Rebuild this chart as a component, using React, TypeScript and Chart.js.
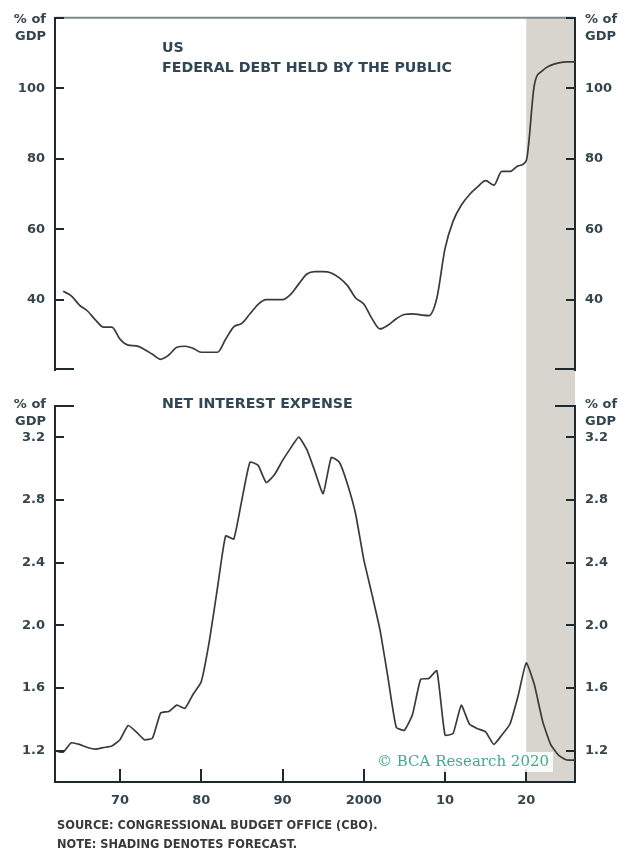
import React, { useEffect, useRef } from 'react';
import { Chart, registerables } from 'chart.js';

Chart.register(...registerables);

// ---------- data ----------
const debtYears = [
  1963, 1964, 1965, 1966, 1967, 1968, 1969, 1970, 1971, 1972, 1973, 1974, 1975, 1976, 1977, 1978,
  1979, 1980, 1981, 1982, 1983, 1984, 1985, 1986, 1987, 1988, 1989, 1990, 1991, 1992, 1993, 1994,
  1995, 1996, 1997, 1998, 1999, 2000, 2001, 2002, 2003, 2004, 2005, 2006, 2007, 2008, 2009, 2010,
  2011, 2012, 2013, 2014, 2015, 2016, 2017, 2018, 2019, 2020, 2021, 2022, 2023, 2024, 2025, 2026,
];
const debtValues = [
  42.4, 41.1, 38.5, 36.8, 34.2, 32.2, 32.2, 28.8, 27.1, 26.9, 25.9, 24.5, 23.1, 24.3, 26.5, 26.8,
  26.2, 25.1, 25.1, 25.1, 28.8, 32.3, 33.3, 36.0, 38.7, 40.0, 40.0, 40.0, 41.5, 44.5, 47.3, 48.0,
  48.0, 47.6, 46.2, 44.0, 40.5, 38.8, 34.7, 31.7, 32.8, 34.6, 35.8, 36.0, 35.7, 35.5, 40.5, 54.5,
  62.3, 66.8, 69.8, 72.0, 73.8, 72.5, 76.4, 76.4, 78.0, 79.5, 101.0, 105.0, 106.5, 107.2, 107.5, 107.5,
];

const interestYears = [
  1962, 1963, 1964, 1965, 1966, 1967, 1968, 1969, 1970, 1971, 1972, 1973, 1974, 1975, 1976, 1977,
  1978, 1979, 1980, 1981, 1982, 1983, 1984, 1985, 1986, 1987, 1988, 1989, 1990, 1991, 1992, 1993,
  1994, 1995, 1996, 1997, 1998, 1999, 2000, 2001, 2002, 2003, 2004, 2005, 2006, 2007, 2008, 2009,
  2010, 2011, 2012, 2013, 2014, 2015, 2016, 2017, 2018, 2019, 2020, 2021, 2022, 2023, 2024, 2025, 2026,
];
const interestValues = [
  1.2, 1.19, 1.25, 1.24, 1.22, 1.21, 1.22, 1.23, 1.27, 1.36, 1.32, 1.27, 1.28, 1.44, 1.45, 1.49,
  1.47, 1.56, 1.64, 1.9, 2.24, 2.57, 2.55, 2.8, 3.04, 3.02, 2.91, 2.96, 3.05, 3.13, 3.2, 3.12,
  2.98, 2.84, 3.07, 3.04, 2.9, 2.71, 2.42, 2.2, 1.97, 1.66, 1.35, 1.33, 1.43, 1.655, 1.66, 1.71,
  1.3, 1.31, 1.49, 1.37, 1.34, 1.32, 1.24, 1.3, 1.37, 1.55, 1.76, 1.62, 1.39, 1.24, 1.17, 1.14, 1.14,
];

const xTickYears = [1970, 1980, 1990, 2000, 2010, 2020];
const xTickLabels = ['70', '80', '90', '2000', '10', '20'];
const debtTickValues = [40, 60, 80, 100];
const interestTickValues = [1.2, 1.6, 2.0, 2.4, 2.8, 3.2];
const yearMin = 1962;
const yearMax = 2026;
const debtMin = 20;
const debtMax = 120;
const interestMin = 1.0;
const interestMax = 3.4;
const forecastStartYear = 2020;

const topTitleLines = ['US', 'FEDERAL DEBT HELD BY THE PUBLIC'];
const bottomTitle = 'NET INTEREST EXPENSE';
const unitLines = ['% of', 'GDP'];
const notes = ['SOURCE: CONGRESSIONAL BUDGET OFFICE (CBO).', 'NOTE: SHADING DENOTES FORECAST.'];
const watermark = '\u00A9 BCA Research 2020';

// ---------- style ----------
const TEXT = '#35454d';
const TITLE = '#2f4757';
const AXIS = '#1e2a2f';
const LINE = '#3a3a3a';
const SHADE = '#d8d5ce';
const TOPLINE = '#7f8888';
const FAMILY = '"DejaVu Sans", "Liberation Sans", sans-serif';

const W = 631;
const TOP_H = 388;
const BOT_H = 465;

function tickList(values: number[]) {
  return values.map((value) => ({ value }));
}

function yScale(pos: 'left' | 'right', min: number, max: number, ticks: number[], labels: number[], digits: number) {
  return {
    type: 'linear',
    position: pos,
    min,
    max,
    afterFit: (s: any) => {
      s.width = pos === 'left' ? 55 : 56;
    },
    afterBuildTicks: (s: any) => {
      s.ticks = tickList(ticks);
    },
    grid: { display: false, drawTicks: false },
    border: { display: true, color: AXIS, width: 2 },
    ticks: {
      padding: 10,
      color: TEXT,
      font: { family: FAMILY, size: 13, weight: 'bold' },
      callback: (v: number) =>
        labels.some((t) => Math.abs(t - v) < 1e-6) ? Number(v).toFixed(digits) : '',
    },
  };
}

function drawLine(ctx: CanvasRenderingContext2D, x1: number, y1: number, x2: number, y2: number) {
  ctx.beginPath();
  ctx.moveTo(x1, y1);
  ctx.lineTo(x2, y2);
  ctx.stroke();
}

// font size (px) making `text` as wide as `target` in the given family/weight
function fittedSize(ctx: CanvasRenderingContext2D, text: string, weight: string, family: string, target: number) {
  ctx.font = `${weight} 20px ${family}`;
  const w = ctx.measureText(text).width;
  return (20 * target) / w;
}

function decorations(kind: 'top' | 'bottom') {
  return {
    id: 'decor_' + kind,
    beforeDraw(chart: any) {
      const { ctx, chartArea, scales } = chart;
      const x0 = scales.x.getPixelForValue(forecastStartYear);
      const top = kind === 'top' ? chartArea.top : 0;
      const bottom = kind === 'top' ? chart.height : chartArea.bottom;
      ctx.save();
      ctx.fillStyle = SHADE;
      ctx.fillRect(x0, top, chartArea.right - x0, bottom - top);
      ctx.restore();
    },
    afterDatasetsDraw(chart: any) {
      const { ctx, chartArea, scales } = chart;
      const { left, right, top, bottom } = chartArea;
      const ys = scales.yL;
      ctx.save();
      ctx.lineCap = 'butt';
      if (kind === 'top') {
        ctx.strokeStyle = TOPLINE;
        ctx.lineWidth = 2;
        drawLine(ctx, left, top, right, top);
      }
      ctx.strokeStyle = AXIS;
      ctx.lineWidth = 2;
      const tickVals = kind === 'top' ? [...debtTickValues, debtMax] : interestTickValues;
      for (const v of tickVals) {
        const y = Math.round(ys.getPixelForValue(v));
        drawLine(ctx, left, y, left + 9, y);
        drawLine(ctx, right - 9, y, right, y);
      }
      const stubVal = kind === 'top' ? debtMin : interestMax;
      const sy = Math.round(ys.getPixelForValue(stubVal)) + (kind === 'top' ? -1 : 0);
      drawLine(ctx, left, sy, left + 19, sy);
      drawLine(ctx, right - 20, sy, right, sy);
      if (kind === 'bottom') {
        for (const yr of xTickYears) {
          const x = Math.round(scales.x.getPixelForValue(yr));
          drawLine(ctx, x, bottom, x, bottom - 13);
        }
      }

      // unit labels
      ctx.fillStyle = TEXT;
      ctx.font = `bold 13px ${FAMILY}`;
      ctx.textBaseline = 'middle';
      const uy = kind === 'top' ? top + 2 : top - 1;
      unitLines.forEach((t, i) => {
        ctx.textAlign = 'right';
        ctx.fillText(t, left - 9, uy + i * 17);
        ctx.textAlign = 'left';
        ctx.fillText(t, right + 10, uy + i * 17);
      });

      // titles
      const titleSize = fittedSize(ctx, topTitleLines[1], 'bold', FAMILY, 290);
      ctx.font = `bold ${titleSize.toFixed(2)}px ${FAMILY}`;
      ctx.fillStyle = TITLE;
      ctx.textAlign = 'left';
      if (kind === 'top') {
        topTitleLines.forEach((t, i) => ctx.fillText(t, 162, 48 + i * 20));
      } else {
        ctx.fillText(bottomTitle, 162, top - 1);

        // watermark
        ctx.font = `15px "DejaVu Serif", serif`;
        const wx = 377;
        const wy = 762 - 388;
        const ww = ctx.measureText(watermark).width;
        ctx.fillStyle = 'rgba(255,255,255,0.85)';
        ctx.fillRect(wx - 4, wy - 10, ww + 8, 20);
        ctx.fillStyle = '#46a88f';
        ctx.fillText(watermark, wx, wy);

        // notes
        const noteSize = fittedSize(ctx, notes[0], 'bold', '"DejaVu Sans Condensed", "DejaVu Sans", sans-serif', 321);
        ctx.fillStyle = '#3a3a3a';
        ctx.font = `bold ${noteSize.toFixed(2)}px "DejaVu Sans Condensed", "DejaVu Sans", sans-serif`;
        notes.forEach((t, i) => ctx.fillText(t, 57, 826 - 388 + i * 19));
      }
      ctx.restore();
    },
  };
}

export default function App() {
  const topRef = useRef<HTMLCanvasElement | null>(null);
  const botRef = useRef<HTMLCanvasElement | null>(null);

  useEffect(() => {
    document.body.style.margin = '0';
    const lineStyle = {
      borderColor: LINE,
      borderWidth: 1.7,
      pointRadius: 0,
      fill: false,
    };

    const top = new Chart(topRef.current as HTMLCanvasElement, {
      type: 'line',
      data: {
        datasets: [
          {
            ...lineStyle,
            data: debtYears.map((x, i) => ({ x, y: debtValues[i] })),
            yAxisID: 'yL',
            cubicInterpolationMode: 'monotone',
          } as any,
        ],
      },
      options: {
        animation: false,
        responsive: false,
        layout: { padding: { top: 12, bottom: 0, left: 0, right: 0 } },
        plugins: { legend: { display: false }, tooltip: { enabled: false } },
        scales: {
          x: { type: 'linear', min: yearMin, max: yearMax, display: false },
          yL: yScale('left', debtMin, debtMax, [debtMin, ...debtTickValues, debtMax], debtTickValues, 0),
          yR: yScale('right', debtMin, debtMax, [debtMin, ...debtTickValues, debtMax], debtTickValues, 0),
        } as any,
      },
      plugins: [decorations('top')],
    });

    const bot = new Chart(botRef.current as HTMLCanvasElement, {
      type: 'line',
      data: {
        datasets: [
          {
            ...lineStyle,
            data: interestYears.map((x, i) => ({ x, y: interestValues[i] })),
            yAxisID: 'yL',
            tension: 0.15,
          } as any,
        ],
      },
      options: {
        animation: false,
        responsive: false,
        layout: { padding: { top: 17, bottom: 0, left: 0, right: 0 } },
        plugins: { legend: { display: false }, tooltip: { enabled: false } },
        scales: {
          x: {
            type: 'linear',
            min: yearMin,
            max: yearMax,
            afterFit: (s: any) => {
              s.height = 71;
            },
            afterBuildTicks: (s: any) => {
              s.ticks = tickList(xTickYears);
            },
            grid: { display: false, drawTicks: false },
            border: { display: true, color: AXIS, width: 2 },
            ticks: {
              padding: 11,
              color: TEXT,
              maxRotation: 0,
              autoSkip: false,
              font: { family: FAMILY, size: 13, weight: 'bold' },
              callback: (v: number) => {
                const i = xTickYears.indexOf(Number(v));
                return i >= 0 ? xTickLabels[i] : '';
              },
            },
          },
          yL: yScale('left', interestMin, interestMax, [...interestTickValues, interestMax], interestTickValues, 1),
          yR: yScale('right', interestMin, interestMax, [...interestTickValues, interestMax], interestTickValues, 1),
        } as any,
      },
      plugins: [decorations('bottom')],
    });

    return () => {
      top.destroy();
      bot.destroy();
    };
  }, []);

  return (
    <div style={{ position: 'relative', width: W, height: TOP_H + BOT_H, background: '#fff' }}>
      <canvas
        ref={topRef}
        width={W}
        height={TOP_H}
        style={{ position: 'absolute', left: 0, top: 0, width: W, height: TOP_H }}
      />
      <canvas
        ref={botRef}
        width={W}
        height={BOT_H}
        style={{ position: 'absolute', left: 0, top: TOP_H, width: W, height: BOT_H }}
      />
    </div>
  );
}
